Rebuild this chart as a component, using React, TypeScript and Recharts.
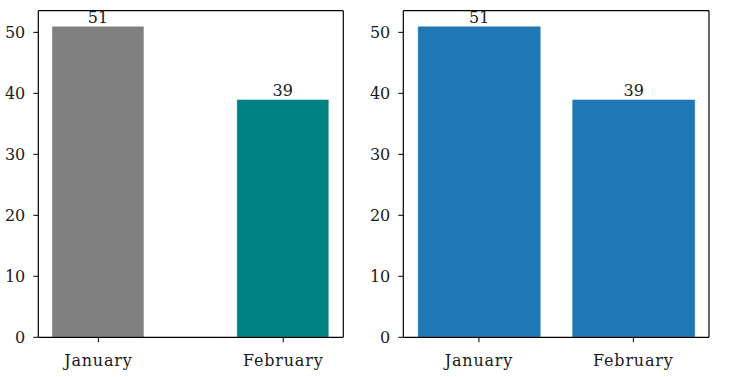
import React from "react"
import { BarChart, Bar, XAxis, YAxis, Cell, LabelList, ReferenceLine } from "recharts"

const months = ["January", "February"]
const sales = [51, 39]
const leftColors = ["#808080", "#008080"]
const rightColor = "#1f77b4"
const yTicks = [0, 10, 20, 30, 40, 50]
const yMax = 53.55

const data = months.map((month, i) => ({ idx: i, month, value: sales[i] }))

const font = "'DejaVu Serif', serif"
const textColor = "#1a1a1a"

type PanelProps = {
  yAxisWidth: number
  marginRight: number
  domain: [number, number]
  barSize: number
  colors?: string[]
  color?: string
}

function Panel({ yAxisWidth, marginRight, domain, barSize, colors, color }: PanelProps) {
  return (
    <BarChart
      width={367}
      height={377}
      data={data}
      margin={{ top: 10.7, right: marginRight, bottom: 0, left: 0 }}
    >
      <XAxis
        xAxisId="x"
        dataKey="idx"
        type="number"
        domain={domain}
        ticks={[0, 1]}
        tickFormatter={(v: number) => months[v] ?? ""}
        height={39.7}
        allowDataOverflow
        tickSize={5}
        tickMargin={12}
        axisLine={{ stroke: "#000", strokeWidth: 1.2 }}
        tickLine={{ stroke: "#000" }}
        tick={{ fill: textColor, fontSize: 16, letterSpacing: 0.8, fontFamily: font }}
      />
      <YAxis
        yAxisId="y"
        domain={[0, yMax]}
        ticks={yTicks}
        width={yAxisWidth}
        allowDataOverflow
        tickSize={5}
        tickMargin={8}
        axisLine={{ stroke: "#000", strokeWidth: 1.2 }}
        tickLine={{ stroke: "#000" }}
        tick={{ fill: textColor, fontSize: 16, fontFamily: font }}
      />
      <ReferenceLine xAxisId="x" yAxisId="y" y={yMax} stroke="#000" strokeWidth={1.2} />
      <ReferenceLine xAxisId="x" yAxisId="y" x={domain[1]} stroke="#000" strokeWidth={1.2} />
      <Bar
        xAxisId="x"
        yAxisId="y"
        dataKey="value"
        barSize={barSize}
        fill={color}
        stroke="#ffffff"
        strokeOpacity={0.45}
        strokeWidth={1}
        isAnimationActive={false}
      >
        {colors && data.map((d, i) => <Cell key={d.month} fill={colors[i]} />)}
        <LabelList
          dataKey="value"
          position="top"
          offset={3}
          fill={textColor}
          fontSize={16}
          fontFamily={font}
        />
      </Bar>
    </BarChart>
  )
}

export default function App() {
  return (
    <div
      style={{
        position: "absolute",
        left: 0,
        top: 0,
        width: 734,
        height: 377,
        background: "#fff",
        fontFamily: font,
      }}
    >
      <div style={{ position: "absolute", left: 0, top: 0 }}>
        <Panel yAxisWidth={38.3} marginRight={23.7} domain={[-0.325, 1.325]} barSize={92} colors={leftColors} />
      </div>
      <div style={{ position: "absolute", left: 367, top: 0 }}>
        <Panel yAxisWidth={36.3} marginRight={25} domain={[-0.49, 1.49]} barSize={123} color={rightColor} />
      </div>
    </div>
  )
}
